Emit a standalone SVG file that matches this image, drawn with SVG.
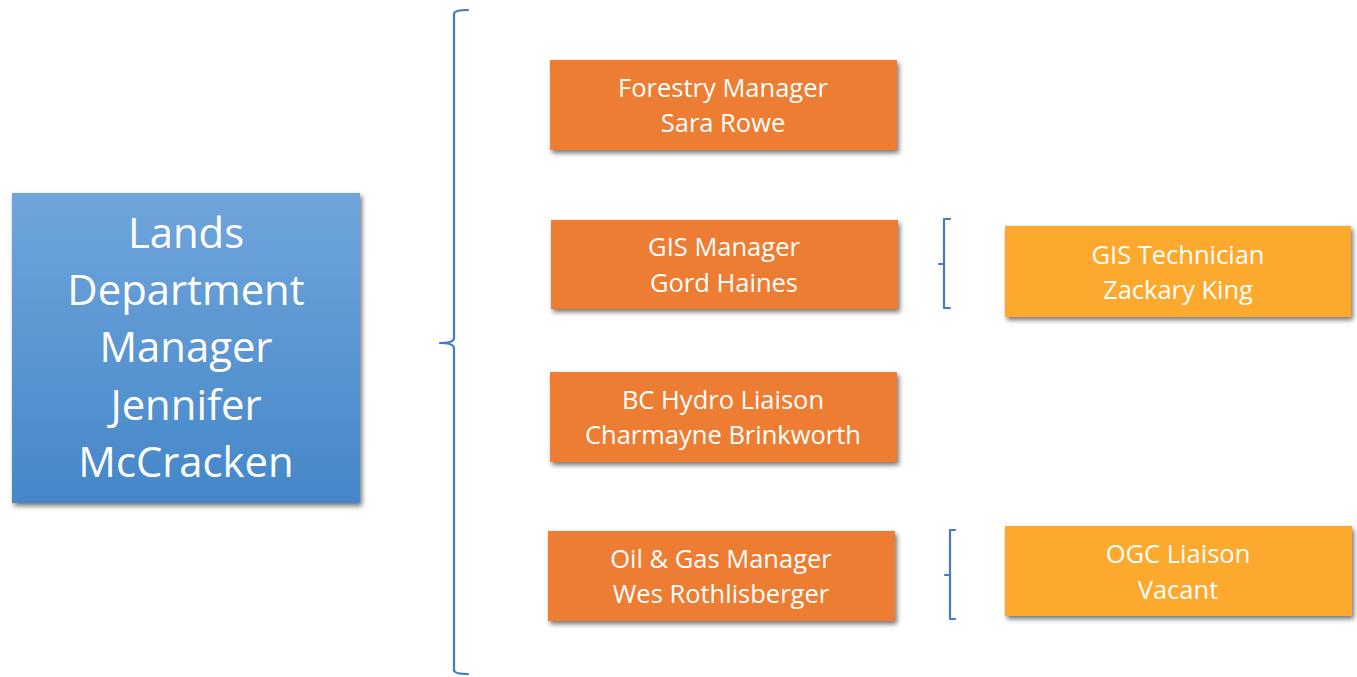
<svg xmlns="http://www.w3.org/2000/svg" width="1357" height="677" viewBox="0 0 1357 677">
<style>
.t{font-family:"Open Sans","Noto Sans",sans-serif;fill:#fff;text-anchor:middle}
.s{font-size:25.5px}
.b{font-size:41.8px}
.org{fill:#ed7d31}
.gold{fill:#fca92f}
.br{fill:none;stroke:#4a78c8;stroke-width:2.2;stroke-linejoin:round;stroke-linecap:round}
</style>
<defs>
<linearGradient id="bg" x1="0" y1="0" x2="0" y2="1">
<stop offset="0" stop-color="#70a5dc"/>
<stop offset="1" stop-color="#4587c9"/>
</linearGradient>
<filter id="sh" x="-10%" y="-10%" width="125%" height="130%">
<feGaussianBlur in="SourceAlpha" stdDeviation="2.5"/>
<feOffset dx="2" dy="3" result="o"/>
<feComponentTransfer><feFuncA type="linear" slope="0.55"/></feComponentTransfer>
<feMerge><feMergeNode/><feMergeNode in="SourceGraphic"/></feMerge>
</filter>
</defs>
<g id="connectors">
<path class="br" d="M468 10 Q454 10 454 14 L454 338 Q454 343 440 343 Q454 343 454 348 L454 670 Q454 674 468 674"/>
<path class="br" d="M950 219 L944 219 L944 308 L950 308 M944 264 L939 264"/>
<path class="br" d="M955 530 L950 530 L950 619 L955 619 M950 575 L945 575"/>
</g>
<g id="lands-manager">
<rect x="12" y="193" width="348" height="310" fill="url(#bg)" filter="url(#sh)"/>
<text class="t b" x="186" y="248">Lands</text>
<text class="t b" x="186" y="305">Department</text>
<text class="t b" x="186" y="362">Manager</text>
<text class="t b" x="186" y="420">Jennifer</text>
<text class="t b" x="186" y="477">McCracken</text>
</g>
<g id="forestry">
<rect class="org" x="550" y="60" width="347" height="90" filter="url(#sh)"/>
<text class="t s" x="723" y="97">Forestry Manager</text>
<text class="t s" x="723" y="132">Sara Rowe</text>
</g>
<g id="gis-manager">
<rect class="org" x="551" y="220" width="347" height="89" filter="url(#sh)"/>
<text class="t s" x="724" y="256">GIS Manager</text>
<text class="t s" x="724" y="292">Gord Haines</text>
</g>
<g id="bc-hydro">
<rect class="org" x="550" y="372" width="347" height="90" filter="url(#sh)"/>
<text class="t s" x="723" y="409">BC Hydro Liaison</text>
<text class="t s" x="723" y="444">Charmayne Brinkworth</text>
</g>
<g id="oil-gas">
<rect class="org" x="548" y="531" width="347" height="90" filter="url(#sh)"/>
<text class="t s" x="721" y="568">Oil &amp; Gas Manager</text>
<text class="t s" x="721" y="603">Wes Rothlisberger</text>
</g>
<g id="gis-tech">
<rect class="gold" x="1005" y="226" width="346" height="91" filter="url(#sh)"/>
<text class="t s" x="1178" y="264">GIS Technician</text>
<text class="t s" x="1178" y="299">Zackary King</text>
</g>
<g id="ogc">
<rect class="gold" x="1005" y="526" width="347" height="90" filter="url(#sh)"/>
<text class="t s" x="1178" y="563">OGC Liaison</text>
<text class="t s" x="1178" y="599">Vacant</text>
</g>
</svg>
